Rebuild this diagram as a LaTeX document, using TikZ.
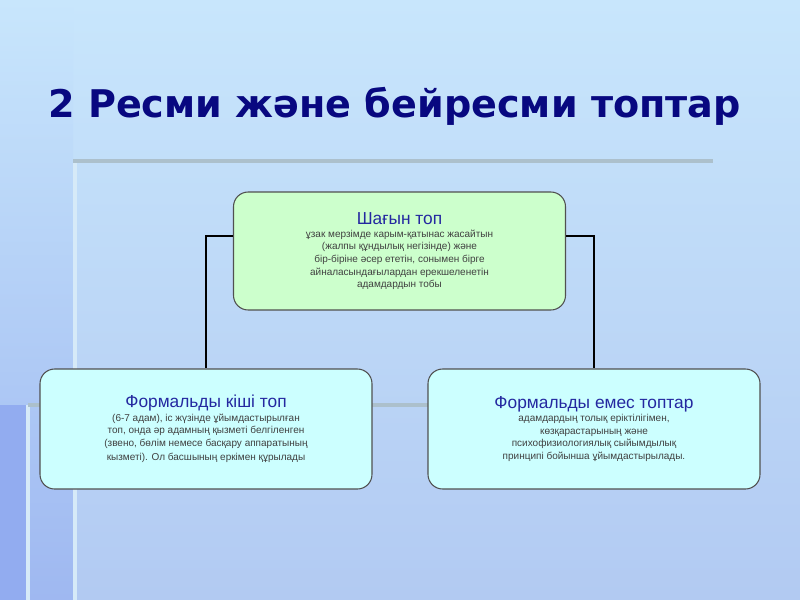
\documentclass[tikz,border=0pt]{standalone}
\usepackage{fontspec}
\setmainfont{Liberation Sans}
\newfontfamily\headfont{DejaVu Sans}
\usepackage{tikz}
\usetikzlibrary{positioning}
\definecolor{slidetop}{RGB}{200,230,252}
\definecolor{slidebottom}{RGB}{178,202,242}
\definecolor{stripdark}{RGB}{146,172,240}
\definecolor{rulegray}{RGB}{172,192,204}
\definecolor{rulelight}{RGB}{214,234,248}
\definecolor{headnavy}{RGB}{8,8,128}
\definecolor{boxblue}{RGB}{36,40,160}
\definecolor{boxtext}{RGB}{64,64,64}
\definecolor{boxgreen}{RGB}{204,255,204}
\definecolor{boxcyan}{RGB}{204,255,255}
\definecolor{boxedge}{RGB}{80,80,80}
\tikzstyle{groupbox} = [draw=boxedge, line width=0.8pt, rounded corners=11pt, minimum width=249pt, minimum height=90pt, align=center, text=boxtext, font=\fontsize{7.5}{9.4}\selectfont, inner sep=0pt]
\tikzstyle{link} = [line width=1.1pt, draw=black]
\newcommand{\boxhead}[1]{{\color{boxblue}\fontsize{13}{15}\selectfont #1}}

\begin{document}
\begin{tikzpicture}[x=0.75pt, y=-0.75pt]
    \useasboundingbox (0,0) rectangle (800,600);
    \shade[top color=slidetop, bottom color=slidebottom] (0,0) rectangle (800,600);
    \shade[top color=slidetop, bottom color=stripdark!60!slidebottom] (0,0) rectangle (73,600);
    \fill[stripdark] (0,405) rectangle (28,600);
    \fill[rulelight] (73,161) rectangle (77,600);
    \fill[rulelight] (26,405) rectangle (30,600);
    \fill[rulegray] (73,159) rectangle (713,163);
    \fill[rulegray] (28,403) rectangle (760,407);
    \node[anchor=base west, inner sep=0pt, text=headnavy, font=\headfont\bfseries\fontsize{28.6}{34}\selectfont] (heading) at (48,117) {2 Ресми және бейресми топтар};
    \node[groupbox, fill=boxgreen, minimum height=88.5pt] (shagyn) at (399.5,251) {\boxhead{Шағын топ}\\[0.5pt]
        ұзак мерзімде карым-қатынас жасайтын\\ (жалпы құндылық негізінде) және\\
        бір-біріне әсер ететін, сонымен бірге\\ айналасындағылардан ерекшеленетін\\ адамдардын тобы};
    \node[groupbox, fill=boxcyan] (formal) at (206,429) {\boxhead{Формальды кіші топ}\\[0.5pt]
        (6-7 адам), іс жүзінде ұйымдастырылған\\ топ, онда әр адамның қызметі белгіленген\\
        (звено, бөлім немесе басқару аппаратының\\[1.5pt] кызметі). Ол басшының еркімен құрылады};
    \node[groupbox, fill=boxcyan] (informal) at (594,429) {\boxhead{Формальды емес топтар}\\[0.5pt]
        адамдардың толық еріктілігімен,\\ көзқарастарының және\\
        психофизиологиялық сыйымдылық\\ принципі бойынша ұйымдастырылады.};
    \draw[link] ([yshift=11.25pt]shagyn.west) -| (formal.north);
    \draw[link] ([yshift=11.25pt]shagyn.east) -| (informal.north);
\end{tikzpicture}
\end{document}
